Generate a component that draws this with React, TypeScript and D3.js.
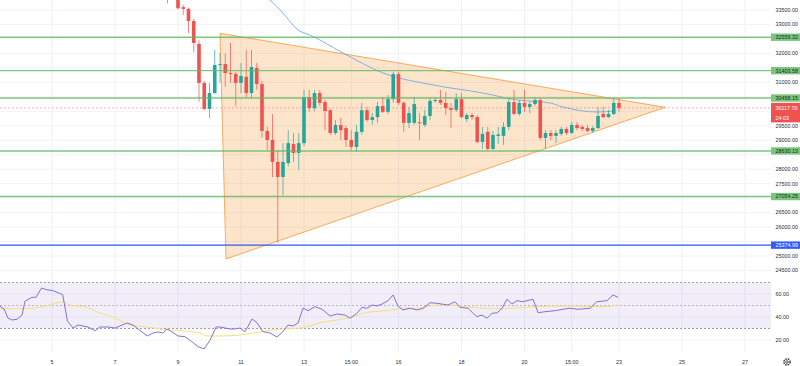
import React, { useRef, useEffect } from "react";
import * as d3 from "d3";

// 4h candles, oldest first: [open, high, low, close]
const candles: [number, number, number, number][] = [
  [33950, 34500, 33730, 34300], [34300, 34400, 33880, 34050], [34050, 34150, 33520, 33560],
  [33600, 33680, 33330, 33540], [33540, 33580, 32700, 33120], [33120, 33200, 32050, 32360],
  [32330, 32450, 30330, 30980], [30980, 31050, 30040, 30080], [30080, 30980, 29770, 30630],
  [30630, 32120, 30600, 31600], [31600, 32010, 30980, 31630], [31630, 32010, 30840, 31320],
  [31320, 32360, 30980, 31290], [31290, 31360, 30180, 30980], [30980, 31670, 30630, 31220],
  [31190, 32120, 30490, 30630], [30630, 32120, 30460, 31530], [31500, 31670, 30740, 30940],
  [30940, 31050, 29080, 29320], [29320, 29460, 28660, 29010], [29010, 29900, 27730, 28250],
  [28250, 28660, 25450, 27730], [27730, 28900, 27100, 28250], [28210, 29350, 28100, 28900],
  [28870, 29250, 28250, 28560], [28560, 29250, 27970, 28900], [28900, 30740, 28800, 30490],
  [30490, 30740, 29980, 30110], [30110, 30740, 30000, 30630], [30630, 30740, 30180, 30290],
  [30320, 30400, 29350, 30010], [30040, 30100, 29180, 29250], [29250, 29700, 29180, 29530],
  [29530, 29770, 29010, 29350], [29420, 29500, 28770, 29010], [29010, 29350, 28660, 28770],
  [28770, 29530, 28600, 29290], [29290, 30290, 29200, 30040], [30040, 30150, 29630, 29700],
  [29700, 29940, 29530, 29800], [29800, 30320, 29600, 30180], [30180, 30490, 29940, 29980],
  [29980, 30560, 29900, 30420], [30420, 31360, 30300, 31290], [31290, 31360, 30220, 30290],
  [30290, 30350, 29290, 29600], [29600, 30150, 29420, 29940], [29600, 30490, 29530, 30250],
  [29620, 29940, 29010, 29590], [29530, 30050, 29460, 29840], [29840, 30460, 29700, 30360],
  [30360, 30490, 30290, 30390], [30390, 30740, 30220, 30290], [30290, 30670, 29870, 30110],
  [30110, 30290, 29420, 30050], [30050, 30630, 29980, 30420], [30420, 30630, 29770, 29800],
  [29730, 29940, 29630, 29870], [29870, 29940, 29700, 29800], [29800, 29870, 28900, 28940],
  [28940, 29460, 28700, 29220], [29290, 29460, 28660, 28700], [28700, 29320, 28660, 29180],
  [29150, 29460, 28870, 29200], [29150, 29630, 28840, 29460], [29460, 30460, 29350, 30320],
  [30320, 30740, 29870, 29910], [29910, 30390, 29840, 30290], [30290, 30740, 29980, 30150],
  [30150, 30320, 29940, 30250], [30250, 30490, 30180, 30390], [30390, 30490, 29010, 29080],
  [29080, 29350, 28700, 29250], [29250, 29350, 29010, 29150], [29150, 29350, 28900, 29250],
  [29220, 29460, 29150, 29390], [29390, 29460, 29180, 29250], [29250, 29630, 29220, 29530],
  [29530, 29630, 29350, 29420], [29460, 29530, 29320, 29390], [29420, 29530, 29280, 29320],
  [29320, 29490, 29250, 29420], [29420, 30150, 29390, 29840], [29910, 30150, 29770, 29800],
  [29800, 30050, 29770, 29910], [29910, 30460, 29870, 30290], [30290, 30460, 29980, 30117.7],
];
const firstBarDay = 8 + 16 / 24; // day of month of the first candle
const barDays = 4 / 24;

// moving average [day, price]
const maLine: [number, number][] = [
  [11.6, 34122], [11.92, 33846], [12.33, 33396], [12.81, 32809], [13.19, 32636],
  [14.24, 32014], [15.51, 31323], [17.1, 30909], [18.68, 30632], [19.76, 30390],
  [20.81, 30287], [21.22, 30149], [22.3, 29976], [22.87, 30010],
];

// RSI [day, value]
const rsi: [number, number][] = [
  [3.35, 49.3], [3.48, 47], [3.6, 39.1], [3.73, 37.4], [3.89, 38], [4.05, 41.7], [4.14, 53.7],
  [4.36, 57.1], [4.49, 57.1], [4.67, 65.2], [4.83, 63.7], [5.04, 62.9], [5.34, 59.4], [5.49, 36.5],
  [5.67, 30.4], [5.83, 33], [6.14, 31.3], [6.37, 28.1], [6.52, 31.3], [6.78, 31.3], [7, 30.4],
  [7.38, 34.8], [7.57, 33], [8.02, 23.5], [8.21, 26.1], [8.37, 27], [8.52, 26.1], [8.65, 29.6],
  [8.81, 27], [9, 23.5], [9.22, 22.9], [9.44, 18.5], [9.64, 14.2], [9.83, 12.2], [10.02, 20],
  [10.21, 31.3], [10.33, 31.3], [10.65, 29.6], [10.81, 29.6], [10.97, 30.4], [11.13, 27.2],
  [11.35, 38.3], [11.51, 35], [11.7, 27.2], [11.92, 26.1], [12.14, 22.6], [12.33, 27.2],
  [12.49, 33], [12.65, 32.2], [12.81, 34.8], [12.97, 47.8], [13.13, 45.5], [13.35, 49],
  [13.57, 46.7], [13.83, 40.9], [14.05, 42.6], [14.3, 41.7], [14.46, 38.9], [14.68, 43.2],
  [14.84, 48.4], [15, 47.6], [15.16, 50.4], [15.32, 49.6], [15.48, 51.3], [15.67, 54.2],
  [15.83, 59.1], [15.98, 49.6], [16.14, 46.1], [16.37, 47.6], [16.59, 46.1], [16.78, 47.6],
  [17, 52.4], [17.22, 51.9], [17.57, 50.4], [17.79, 53.3], [17.95, 48.4], [18.21, 47.6],
  [18.37, 43.2], [18.49, 40.3], [18.65, 41.7], [18.81, 38.9], [18.97, 43.2], [19.13, 43.7],
  [19.29, 47.6], [19.44, 55.4], [19.6, 51.3], [19.76, 54.2], [19.95, 53.3], [20.27, 55.4],
  [20.43, 43.7], [20.65, 44.6], [20.97, 45.5], [21.22, 46.7], [21.44, 47.6], [21.7, 46.7],
  [22.08, 47.6], [22.3, 53.3], [22.62, 54.2], [22.81, 59.1], [22.97, 57.1],
];
const rsiMa: [number, number][] = [
  [3.35, 47.2], [3.98, 47.2], [4.62, 48.4], [5.03, 51.3], [5.41, 53.5], [5.51, 50.7],
  [6.11, 48.4], [6.52, 43.5], [6.94, 40], [7.48, 33], [8.02, 31.3], [8.43, 29.6], [9.06, 28.1],
  [9.7, 26.1], [9.92, 23.5], [10.33, 23.5], [10.97, 24.3], [11.38, 26.1], [11.83, 28.1],
  [12.33, 29.6], [12.87, 30.4], [13.51, 35], [14.05, 37.4], [14.56, 40.3], [14.87, 43.2],
  [15.19, 44.6], [15.64, 45.5], [16.14, 47.6], [16.59, 47.6], [17.22, 50.4], [17.64, 50.4],
  [18.27, 48.4], [18.81, 47.6], [19.44, 47.6], [20.4, 49], [21.44, 49.6], [22.49, 49],
  [22.97, 50.4],
];

const levels = [32559.32, 31403.58, 30458.15, 28630.13, 27054.25];
const support = 25374.99;
const lastPrice = 30117.7;
const countdown = "24:03";
// triangle drawing [day, price]
const triangle: [number, number][] = [[10.333, 32695], [10.524, 24897], [24.46, 30138]];

const priceTicks = [33500, 33000, 32500, 32000, 31500, 31000, 30500, 30000, 29500, 29000,
  28500, 28000, 27500, 27000, 26500, 26000, 25500, 25000, 24500];
const rsiTicks = [60, 40, 20];
const rsiBands = [70, 50, 30];
const timeTicks = [5, 7, 9, 11, 13, 14.5, 16, 18, 20, 21.5, 23, 25, 27];
const timeLabels = ["5", "7", "9", "11", "13", "15:00", "16", "18", "20", "15:00", "23", "25", "27"];

const W = 800, H = 366, plotRight = 771;
const font = "'Liberation Sans', Arial, sans-serif";
const up = "#26a69a", down = "#ef5350";

const Chart = () => {
  const ref = useRef<SVGSVGElement>(null);

  useEffect(() => {
    const svg = d3.select(ref.current);
    svg.selectAll("*").remove();

    const x = d3.scaleLinear().domain([5, 27]).range([52, 745]);
    const y = d3.scaleLinear().domain([33500, 24500]).range([10, 270.46]);
    const ry = d3.scaleLinear().domain([70, 30]).range([282.5, 328.5]);

    const defs = svg.append("defs");
    defs.append("clipPath").attr("id", "mainClip").append("rect")
      .attr("x", 0).attr("y", 0).attr("width", plotRight).attr("height", 278);
    defs.append("clipPath").attr("id", "rsiClip").append("rect")
      .attr("x", 0).attr("y", 278).attr("width", plotRight).attr("height", 76);

    // grid
    svg.append("g").selectAll("line").data(timeTicks).join("line")
      .attr("x1", d => x(d)).attr("x2", d => x(d)).attr("y1", 0).attr("y2", 352)
      .attr("stroke", "#eef0f5").attr("stroke-width", 1);
    svg.append("g").selectAll("line").data(priceTicks).join("line")
      .attr("x1", 0).attr("x2", plotRight).attr("y1", d => y(d)).attr("y2", d => y(d))
      .attr("stroke", "#f1f3f8");
    svg.append("g").selectAll("line").data(rsiTicks).join("line")
      .attr("x1", 0).attr("x2", plotRight).attr("y1", d => ry(d)).attr("y2", d => ry(d))
      .attr("stroke", "#f1f3f8");

    const main = svg.append("g").attr("clip-path", "url(#mainClip)");

    // triangle
    main.append("path")
      .attr("d", d3.line()(triangle.map(([d, p]) => [x(d), y(p)])) + "Z")
      .attr("fill", "rgba(245,124,0,0.2)").attr("stroke", "#f9a24a").attr("stroke-width", 0.9);

    // moving average
    main.append("path")
      .attr("d", d3.line<[number, number]>().x(d => x(d[0])).y(d => y(d[1])).curve(d3.curveMonotoneX)(maLine))
      .attr("fill", "none").attr("stroke", "#6aa8e8").attr("stroke-width", 1).attr("opacity", 0.85);

    // last price line
    main.append("line").attr("x1", 0).attr("x2", plotRight)
      .attr("y1", y(lastPrice)).attr("y2", y(lastPrice))
      .attr("stroke", down).attr("stroke-opacity", 0.45).attr("stroke-dasharray", "2,2");

    // candles
    const bars = main.append("g").selectAll("g").data(candles).join("g");
    const cx = (i: number) => x(firstBarDay + i * barDays);
    bars.append("line")
      .attr("x1", (d, i) => cx(i)).attr("x2", (d, i) => cx(i))
      .attr("y1", d => y(d[1])).attr("y2", d => y(d[2]))
      .attr("stroke", d => (d[3] >= d[0] ? up : down)).attr("stroke-opacity", 0.7);
    bars.append("rect")
      .attr("x", (d, i) => cx(i) - 1.8).attr("width", 3.6)
      .attr("y", d => y(Math.max(d[0], d[3])))
      .attr("height", d => Math.max(1, Math.abs(y(d[0]) - y(d[3]))))
      .attr("fill", d => (d[3] >= d[0] ? up : down));

    // horizontal levels
    main.append("g").selectAll("line").data(levels).join("line")
      .attr("x1", 0).attr("x2", plotRight).attr("y1", d => y(d)).attr("y2", d => y(d))
      .attr("stroke", "#5fb862").attr("stroke-width", 1.4).attr("stroke-opacity", 0.8);
    main.append("line").attr("x1", 0).attr("x2", plotRight)
      .attr("y1", y(support)).attr("y2", y(support))
      .attr("stroke", "#3159f5").attr("stroke-width", 1.1);

    // RSI pane
    const rp = svg.append("g").attr("clip-path", "url(#rsiClip)");
    rp.append("rect").attr("x", 0).attr("width", plotRight)
      .attr("y", ry(70)).attr("height", ry(30) - ry(70)).attr("fill", "rgba(126,87,194,0.1)");
    rp.append("g").selectAll("line").data(rsiBands).join("line")
      .attr("x1", 0).attr("x2", plotRight).attr("y1", d => ry(d)).attr("y2", d => ry(d))
      .attr("stroke", d => (d === 50 ? "#b9b4c8" : "#a39fb3")).attr("stroke-dasharray", "2,2");
    const rl = d3.line<[number, number]>().x(d => x(d[0])).y(d => ry(d[1]));
    rp.append("path").attr("d", rl.curve(d3.curveMonotoneX)(rsiMa))
      .attr("fill", "none").attr("stroke", "#f5df7a").attr("stroke-width", 1);
    rp.append("path").attr("d", d3.line<[number, number]>().x(d => x(d[0])).y(d => ry(d[1]))(rsi))
      .attr("fill", "none").attr("stroke", "#8a6fd1").attr("stroke-width", 1);

    // price axis: tick labels hidden behind a tag are not drawn
    const tagYs = [...levels, support].map(v => y(v)).concat([y(lastPrice) + 4.75]);
    const tagHalf = [...levels, support].map(() => 3.7).concat([9.75]);
    const hidden = (py: number) => tagYs.some((ty, i) => Math.abs(py - ty) < tagHalf[i] + 0.8);
    const axis = svg.append("g").attr("font-family", font).attr("font-size", 5.4);
    axis.selectAll("text.p").data(priceTicks.filter(p => !hidden(y(p)))).join("text")
      .attr("x", 775.5).attr("y", d => y(d)).attr("dy", "0.35em")
      .attr("fill", "#2a2e39").text(d => d3.format(".2f")(d));
    axis.selectAll("text.r").data(rsiTicks).join("text")
      .attr("x", 775.5).attr("y", d => ry(d)).attr("dy", "0.35em")
      .attr("fill", "#2a2e39").text(d => d3.format(".2f")(d));

    const tags = axis.append("g");
    levels.forEach(v => {
      tags.append("rect").attr("x", plotRight).attr("y", y(v) - 3.7).attr("width", 29).attr("height", 7.4)
        .attr("fill", "#7cc57e");
      tags.append("text").attr("x", 775.5).attr("y", y(v)).attr("dy", "0.35em")
        .attr("fill", "#1b2a1b").text(d3.format(".2f")(v));
    });
    tags.append("rect").attr("x", plotRight).attr("y", y(support) - 3.7).attr("width", 29).attr("height", 7.4)
      .attr("fill", "#2f5bff");
    tags.append("text").attr("x", 775.5).attr("y", y(support)).attr("dy", "0.35em")
      .attr("fill", "#fff").text(d3.format(".2f")(support));
    tags.append("rect").attr("x", plotRight).attr("y", y(lastPrice) - 5).attr("width", 29).attr("height", 19.5)
      .attr("fill", down);
    tags.append("text").attr("x", 775.5).attr("y", y(lastPrice) + 0.6).attr("dy", "0.35em")
      .attr("fill", "#fff").text(d3.format(".2f")(lastPrice));
    tags.append("text").attr("x", 775.5).attr("y", y(lastPrice) + 10.6).attr("dy", "0.35em")
      .attr("fill", "#fff").text(countdown);

    // time axis
    axis.selectAll("text.t").data(timeTicks).join("text")
      .attr("x", d => x(d)).attr("y", 362).attr("dy", "0.35em").attr("text-anchor", "middle")
      .attr("fill", "#2a2e39").text((d, i) => timeLabels[i]);

    // settings gear
    const gear = svg.append("g").attr("transform", "translate(787,362)");
    gear.append("circle").attr("r", 3.1).attr("fill", "none").attr("stroke", "#2a2e39")
      .attr("stroke-width", 1.3).attr("stroke-dasharray", "1.6,0.9");
    gear.append("circle").attr("r", 1.3).attr("fill", "#fff").attr("stroke", "#2a2e39").attr("stroke-width", 0.8);
  }, []);

  return (
    <svg ref={ref} width={W} height={H}
      style={{ position: "absolute", left: 0, top: 0, background: "#fff" }} />
  );
};

export default function App() {
  return <Chart />;
}
